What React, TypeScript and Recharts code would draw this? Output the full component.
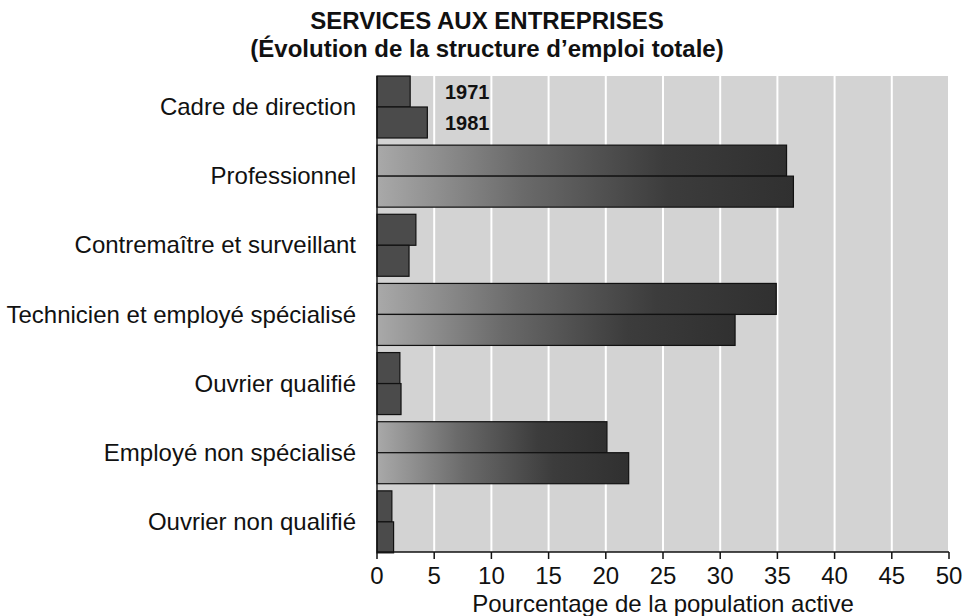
import { Bar, BarChart, CartesianGrid, LabelList, XAxis, YAxis } from "recharts";

const categories = [
  "Cadre de direction",
  "Professionnel",
  "Contremaître et surveillant",
  "Technicien et employé spécialisé",
  "Ouvrier qualifié",
  "Employé non spécialisé",
  "Ouvrier non qualifié",
];

const values1971 = [2.9, 35.8, 3.4, 34.9, 2.0, 20.1, 1.3];
const values1981 = [4.4, 36.4, 2.8, 31.3, 2.1, 22.0, 1.45];

const xTicks = [0, 5, 10, 15, 20, 25, 30, 35, 40, 45, 50];

const title = "SERVICES AUX ENTREPRISES";
const subtitle = "(Évolution de la structure d’emploi totale)";
const xLabel = "Pourcentage de la population active";

const data = categories.map((name, i) => ({
  name,
  y1971: values1971[i],
  y1981: values1981[i],
}));

const font = "'Liberation Sans', Arial, Helvetica, sans-serif";

// long bars get the light-to-dark shading, short ones stay dark
function ShadedBar(props: any) {
  const { x, y, width, height } = props;
  if (!width || width <= 0) return null;
  const fill = width > 120 ? "url(#barShade)" : "#4b4b4b";
  return <rect x={x} y={y} width={width} height={height} fill={fill} stroke="#111" strokeWidth={1.2} />;
}

function yearLabel(text: string) {
  return (props: any) => {
    if (props.index !== 0) return null;
    const { x, y, height } = props;
    return (
      <text
        x={Number(x) + 68}
        y={Number(y) + Number(height) / 2}
        dominantBaseline="central"
        fontFamily={font}
        fontWeight="bold"
        fontSize={20}
        fill="#111"
      >
        {text}
      </text>
    );
  };
}

export default function App() {
  return (
    <div style={{ position: "absolute", left: 0, top: 0, width: 974, height: 616, background: "#fff", fontFamily: font }}>
      <div
        style={{
          position: "absolute",
          left: 0,
          width: 974,
          top: 7,
          textAlign: "center",
          fontWeight: "bold",
          fontSize: 24,
          lineHeight: "28px",
          color: "#111",
        }}
      >
        <div>{title}</div>
        <div>{subtitle}</div>
      </div>
      <BarChart
        width={974}
        height={616}
        data={data}
        layout="vertical"
        margin={{ top: 76, right: 25, bottom: 0, left: 0 }}
        barCategoryGap={4}
        barGap={0}
      >
        <defs>
          <linearGradient id="barShade" x1="0" y1="0" x2="1" y2="0">
            <stop offset="0%" stopColor="#a9a9a9" />
            <stop offset="35%" stopColor="#6a6a6a" />
            <stop offset="70%" stopColor="#3c3c3c" />
            <stop offset="100%" stopColor="#303030" />
          </linearGradient>
        </defs>
        <CartesianGrid horizontal={false} stroke="#ffffff" strokeWidth={2} fill="#d3d3d3" fillOpacity={1} />
        <XAxis
          type="number"
          domain={[0, 50]}
          ticks={xTicks}
          interval={0}
          height={64}
          tickSize={7}
          tickMargin={8}
          axisLine={{ stroke: "#111", strokeWidth: 1.5 }}
          tickLine={{ stroke: "#111", strokeWidth: 1.5 }}
          tick={{ fill: "#111", fontSize: 24, fontFamily: font }}
        />
        <YAxis
          type="category"
          dataKey="name"
          width={377}
          padding={{ top: -4, bottom: -4 }}
          tickLine={false}
          tickSize={6}
          tickMargin={15}
          axisLine={{ stroke: "#111", strokeWidth: 1.5 }}
          tick={{ fill: "#111", fontSize: 24, fontFamily: font }}
        />
        <Bar dataKey="y1971" shape={ShadedBar} isAnimationActive={false}>
          <LabelList dataKey="y1971" content={yearLabel("1971")} />
        </Bar>
        <Bar dataKey="y1981" shape={ShadedBar} isAnimationActive={false}>
          <LabelList dataKey="y1981" content={yearLabel("1981")} />
        </Bar>
      </BarChart>
      <div
        style={{
          position: "absolute",
          left: 377,
          width: 572,
          top: 590,
          textAlign: "center",
          fontSize: 24,
          color: "#111",
        }}
      >
        {xLabel}
      </div>
    </div>
  );
}
